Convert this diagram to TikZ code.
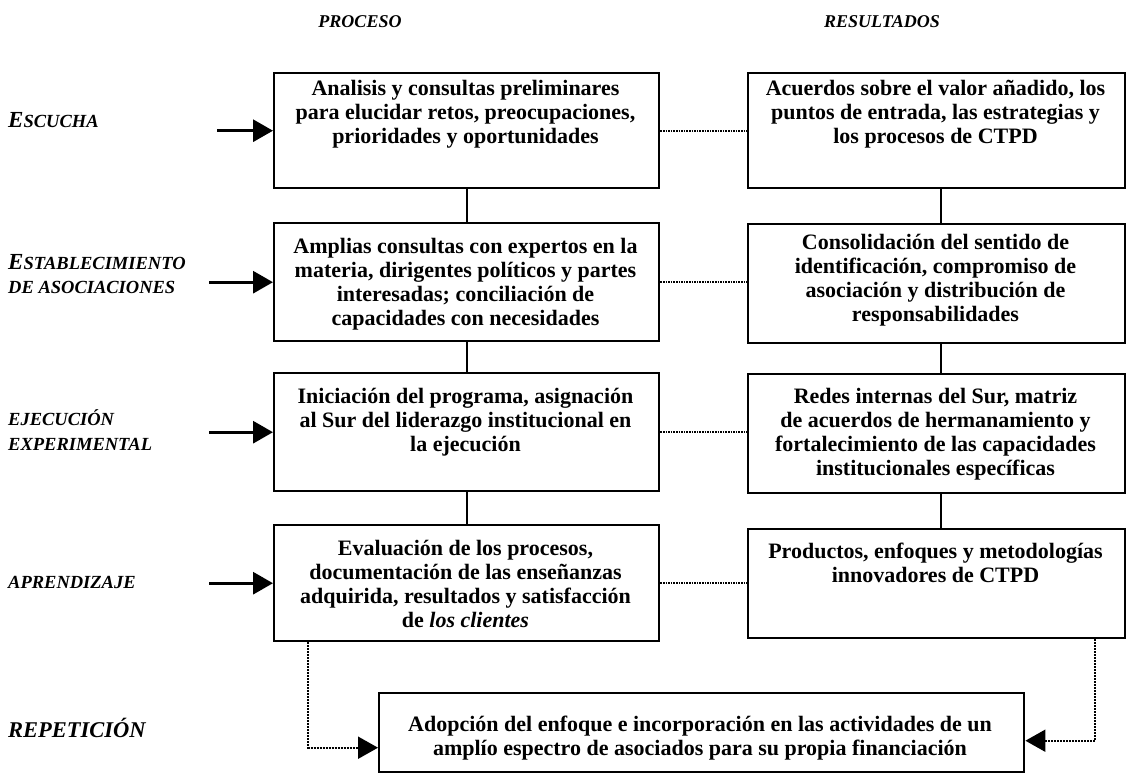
\documentclass[tikz,border=0pt]{standalone}
\usepackage{fontspec}
\setmainfont{Liberation Serif}
\usetikzlibrary{arrows.meta,calc}
\newcommand\lblsc[2]{{\fontsize{23}{24}\selectfont #1}{\fontsize{18.5}{24}\selectfont #2}}
\begin{document}
\begin{tikzpicture}[x=1pt,y=-1pt,
  box/.style={draw,line width=2.4pt,inner sep=0pt,anchor=north west},
  txt/.style={align=center,inner sep=0pt,anchor=north,font=\fontsize{22}{24}\selectfont\bfseries},
  hdr/.style={inner sep=0pt,font=\fontsize{18}{20}\selectfont\bfseries\itshape},
  lbl/.style={inner sep=0pt,anchor=west,align=left,font=\fontsize{18.5}{24.5}\selectfont\bfseries\itshape},
  vline/.style={line width=2pt},
  dotline/.style={line width=1.6pt,densely dotted},
  inarrow/.style={line width=3pt,-{Triangle[length=20pt,width=22pt]}},
  looparrow/.style={line width=2pt,densely dotted,-{Triangle[length=20pt,width=22pt]}}
]
\useasboundingbox (0,0) rectangle (1126,772);

% headers
\node[hdr] (h1) at (360,22) {PROCESO};
\node[hdr] (h2) at (882,22) {RESULTADOS};

% left column boxes
\node[box,minimum width=385pt,minimum height=115pt] (b1) at (273,72) {};
\node[box,minimum width=385pt,minimum height=118pt] (b2) at (273,222) {};
\node[box,minimum width=385pt,minimum height=118pt] (b3) at (273,372) {};
\node[box,minimum width=385pt,minimum height=116pt] (b4) at (273,524) {};

% right column boxes
\node[box,minimum width=377pt,minimum height=115pt] (r1) at (747,72) {};
\node[box,minimum width=377pt,minimum height=119pt] (r2) at (747,223) {};
\node[box,minimum width=377pt,minimum height=119pt] (r3) at (747,373) {};
\node[box,minimum width=377pt,minimum height=109pt] (r4) at (747,528) {};

% bottom box
\node[box,minimum width=645pt,minimum height=79pt] (bb) at (378,692) {};

% texts
\node[txt] (t1) at (465.5,80) {Analisis y consultas preliminares\\para elucidar retos, preocupaciones,\\prioridades y oportunidades};
\node[txt] (t2) at (465.5,238) {Amplias consultas con expertos en la\\materia, dirigentes políticos y partes\\interesadas; conciliación de\\capacidades con necesidades};
\node[txt] (t3) at (465.5,388) {Iniciación del programa, asignación\\al Sur del liderazgo institucional en\\la ejecución};
\node[txt] (t4) at (465.5,540) {Evaluación de los procesos,\\documentación de las enseñanzas\\adquirida, resultados y satisfacción\\de \textit{los clientes}};

\node[txt] (u1) at (935.5,80) {Acuerdos sobre el valor añadido, los\\puntos de entrada, las estrategias y\\los procesos de CTPD};
\node[txt] (u2) at (935.5,234) {Consolidación del sentido de\\identificación, compromiso de\\asociación y distribución de\\responsabilidades};
\node[txt] (u3) at (935.5,388) {Redes internas del Sur, matriz\\de acuerdos de hermanamiento y\\fortalecimiento de las capacidades\\institucionales específicas};
\node[txt] (u4) at (935.5,543) {Productos, enfoques y metodologías\\innovadores de CTPD};

\node[txt] (tb) at (700,716) {Adopción del enfoque e incorporación en las actividades de un\\amplío espectro de asociados para su propia financiación};

% left labels
\node[lbl] (l1) at (8,120) {\lblsc{E}{SCUCHA}};
\node[lbl] (l2) at (8,274) {\lblsc{E}{STABLECIMIENTO}\\DE ASOCIACIONES};
\node[lbl] (l3) at (8,430) {EJECUCIÓN\\EXPERIMENTAL};
\node[lbl] (l4) at (8,582) {APRENDIZAJE};
\node[lbl,font=\fontsize{22.5}{24}\selectfont\bfseries\itshape] (l5) at (8,728) {REPETICIÓN};

% arrow tails
\coordinate (a1) at ($(b1.west)+(-56,0)$);
\coordinate (a2) at ($(b2.west)+(-64,0)$);
\coordinate (a3) at ($(b3.west)+(-64,0)$);
\coordinate (a4) at ($(b4.west)+(-64,0)$);
\draw[inarrow] (a1) -- (b1.west);
\draw[inarrow] (a2) -- (b2.west);
\draw[inarrow] (a3) -- (b3.west);
\draw[inarrow] (a4) -- (b4.west);

% vertical connectors
\draw[vline] (b1.south) -- (b2.north);
\draw[vline] (b2.south) -- (b3.north);
\draw[vline] (b3.south) -- (b4.north);
\draw[vline] ([xshift=4.5pt]r1.south) -- ([xshift=4.5pt]r2.north);
\draw[vline] ([xshift=4.5pt]r2.south) -- ([xshift=4.5pt]r3.north);
\draw[vline] ([xshift=4.5pt]r3.south) -- ([xshift=4.5pt]r4.north);

% dotted horizontal connectors
\draw[dotline] (b1.east) -- (b1.east -| r1.west);
\draw[dotline] (b2.east) -- (b2.east -| r2.west);
\draw[dotline] (b3.east) -- (b3.east -| r3.west);
\draw[dotline] (b4.east) -- (b4.east -| r4.west);

% loops to bottom box
\draw[looparrow] ([xshift=35pt]b4.south west) |- ([yshift=-15pt]bb.west);
\draw[looparrow] ([xshift=-31pt]r4.south east) |- ([yshift=-8pt]bb.east);
\end{tikzpicture}
\end{document}
